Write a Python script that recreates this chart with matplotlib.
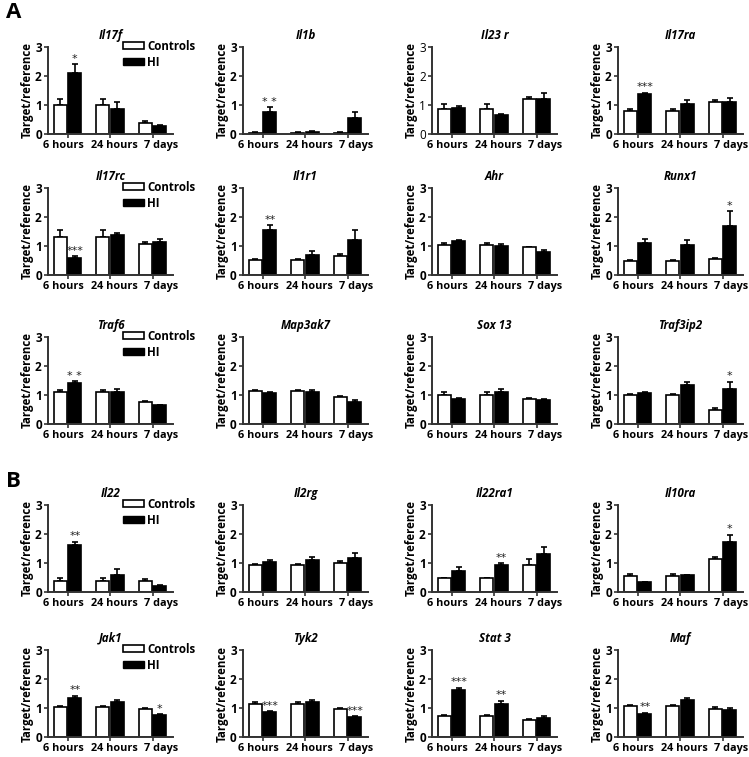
import matplotlib
matplotlib.use('Agg')
import matplotlib.pyplot as plt
import numpy as np
from matplotlib.patches import Patch

plt.rcParams['font.family'] = ['Open Sans', 'DejaVu Sans']

timepoints = ['6 hours', '24 hours', '7 days']
series_names = ['Controls', 'HI']

# ---- data (mean, upper error) ----
il17f_ctrl = [1.00, 1.00, 0.37]; il17f_ctrl_err = [0.20, 0.20, 0.08]
il17f_hi = [2.12, 0.85, 0.28];   il17f_hi_err = [0.28, 0.25, 0.04]
il17f_sig = ['*', '', '']

il1b_ctrl = [0.04, 0.04, 0.04];  il1b_ctrl_err = [0.02, 0.02, 0.02]
il1b_hi = [0.75, 0.07, 0.55];    il1b_hi_err = [0.17, 0.02, 0.22]
il1b_sig = ['* *', '', '']

il23r_ctrl = [0.87, 0.87, 1.20]; il23r_ctrl_err = [0.18, 0.18, 0.08]
il23r_hi = [0.88, 0.65, 1.20];   il23r_hi_err = [0.10, 0.05, 0.20]
il23r_sig = ['', '', '']

il17ra_ctrl = [0.80, 0.80, 1.12]; il17ra_ctrl_err = [0.06, 0.06, 0.04]
il17ra_hi = [1.37, 1.02, 1.12];   il17ra_hi_err = [0.06, 0.15, 0.12]
il17ra_sig = ['***', '', '']

il17rc_ctrl = [1.30, 1.30, 1.08]; il17rc_ctrl_err = [0.25, 0.25, 0.06]
il17rc_hi = [0.60, 1.38, 1.13];   il17rc_hi_err = [0.04, 0.08, 0.10]
il17rc_sig = ['***', '', '']

il1r1_ctrl = [0.50, 0.50, 0.67]; il1r1_ctrl_err = [0.04, 0.04, 0.04]
il1r1_hi = [1.55, 0.68, 1.22];   il1r1_hi_err = [0.17, 0.14, 0.32]
il1r1_sig = ['**', '', '']

ahr_ctrl = [1.05, 1.05, 0.95]; ahr_ctrl_err = [0.04, 0.04, 0.03]
ahr_hi = [1.17, 1.00, 0.80];   ahr_hi_err = [0.05, 0.06, 0.07]
ahr_sig = ['', '', '']

runx1_ctrl = [0.48, 0.48, 0.55]; runx1_ctrl_err = [0.03, 0.03, 0.03]
runx1_hi = [1.12, 1.05, 1.68];   runx1_hi_err = [0.12, 0.15, 0.52]
runx1_sig = ['', '', '*']

traf6_ctrl = [1.10, 1.10, 0.77]; traf6_ctrl_err = [0.07, 0.07, 0.03]
traf6_hi = [1.40, 1.12, 0.64];   traf6_hi_err = [0.07, 0.10, 0.03]
traf6_sig = ['* *', '', '']

map3ak7_ctrl = [1.13, 1.13, 0.93]; map3ak7_ctrl_err = [0.05, 0.05, 0.04]
map3ak7_hi = [1.08, 1.10, 0.77];   map3ak7_hi_err = [0.03, 0.08, 0.05]
map3ak7_sig = ['', '', '']

sox13_ctrl = [1.00, 1.00, 0.85]; sox13_ctrl_err = [0.10, 0.10, 0.03]
sox13_hi = [0.85, 1.10, 0.82];   sox13_hi_err = [0.03, 0.10, 0.05]
sox13_sig = ['', '', '']

traf3ip2_ctrl = [1.00, 1.00, 0.50]; traf3ip2_ctrl_err = [0.05, 0.05, 0.05]
traf3ip2_hi = [1.07, 1.35, 1.20];   traf3ip2_hi_err = [0.05, 0.10, 0.25]
traf3ip2_sig = ['', '', '*']

il22_ctrl = [0.38, 0.38, 0.37]; il22_ctrl_err = [0.10, 0.10, 0.08]
il22_hi = [1.62, 0.60, 0.22];   il22_hi_err = [0.12, 0.20, 0.03]
il22_sig = ['**', '', '']

il2rg_ctrl = [0.93, 0.93, 1.00]; il2rg_ctrl_err = [0.04, 0.04, 0.06]
il2rg_hi = [1.05, 1.12, 1.18];   il2rg_hi_err = [0.05, 0.10, 0.15]
il2rg_sig = ['', '', '']

il22ra1_ctrl = [0.48, 0.48, 0.93]; il22ra1_ctrl_err = [0.02, 0.02, 0.22]
il22ra1_hi = [0.73, 0.93, 1.30];   il22ra1_hi_err = [0.13, 0.06, 0.25]
il22ra1_sig = ['', '**', '']

il10ra_ctrl = [0.55, 0.55, 1.15]; il10ra_ctrl_err = [0.08, 0.08, 0.05]
il10ra_hi = [0.33, 0.57, 1.72];   il10ra_hi_err = [0.02, 0.03, 0.25]
il10ra_sig = ['', '', '*']

jak1_ctrl = [1.05, 1.05, 0.97]; jak1_ctrl_err = [0.03, 0.03, 0.04]
jak1_hi = [1.35, 1.20, 0.75];   jak1_hi_err = [0.08, 0.06, 0.03]
jak1_sig = ['**', '', '*']

tyk2_ctrl = [1.13, 1.13, 0.97]; tyk2_ctrl_err = [0.07, 0.07, 0.03]
tyk2_hi = [0.85, 1.22, 0.68];   tyk2_hi_err = [0.03, 0.05, 0.03]
tyk2_sig = ['***', '', '***']

stat3_ctrl = [0.72, 0.72, 0.58]; stat3_ctrl_err = [0.03, 0.03, 0.03]
stat3_hi = [1.63, 1.13, 0.65];   stat3_hi_err = [0.07, 0.12, 0.06]
stat3_sig = ['***', '**', '']

maf_ctrl = [1.08, 1.08, 0.98]; maf_ctrl_err = [0.04, 0.04, 0.07]
maf_hi = [0.80, 1.27, 0.92];   maf_hi_err = [0.03, 0.07, 0.08]
maf_sig = ['**', '', '']

panels = [
    ('Il17f', il17f_ctrl, il17f_ctrl_err, il17f_hi, il17f_hi_err, il17f_sig),
    ('Il1b', il1b_ctrl, il1b_ctrl_err, il1b_hi, il1b_hi_err, il1b_sig),
    ('Il23 r', il23r_ctrl, il23r_ctrl_err, il23r_hi, il23r_hi_err, il23r_sig),
    ('Il17ra', il17ra_ctrl, il17ra_ctrl_err, il17ra_hi, il17ra_hi_err, il17ra_sig),
    ('Il17rc', il17rc_ctrl, il17rc_ctrl_err, il17rc_hi, il17rc_hi_err, il17rc_sig),
    ('Il1r1', il1r1_ctrl, il1r1_ctrl_err, il1r1_hi, il1r1_hi_err, il1r1_sig),
    ('Ahr', ahr_ctrl, ahr_ctrl_err, ahr_hi, ahr_hi_err, ahr_sig),
    ('Runx1', runx1_ctrl, runx1_ctrl_err, runx1_hi, runx1_hi_err, runx1_sig),
    ('Traf6', traf6_ctrl, traf6_ctrl_err, traf6_hi, traf6_hi_err, traf6_sig),
    ('Map3ak7', map3ak7_ctrl, map3ak7_ctrl_err, map3ak7_hi, map3ak7_hi_err, map3ak7_sig),
    ('Sox 13', sox13_ctrl, sox13_ctrl_err, sox13_hi, sox13_hi_err, sox13_sig),
    ('Traf3ip2', traf3ip2_ctrl, traf3ip2_ctrl_err, traf3ip2_hi, traf3ip2_hi_err, traf3ip2_sig),
    ('Il22', il22_ctrl, il22_ctrl_err, il22_hi, il22_hi_err, il22_sig),
    ('Il2rg', il2rg_ctrl, il2rg_ctrl_err, il2rg_hi, il2rg_hi_err, il2rg_sig),
    ('Il22ra1', il22ra1_ctrl, il22ra1_ctrl_err, il22ra1_hi, il22ra1_hi_err, il22ra1_sig),
    ('Il10ra', il10ra_ctrl, il10ra_ctrl_err, il10ra_hi, il10ra_hi_err, il10ra_sig),
    ('Jak1', jak1_ctrl, jak1_ctrl_err, jak1_hi, jak1_hi_err, jak1_sig),
    ('Tyk2', tyk2_ctrl, tyk2_ctrl_err, tyk2_hi, tyk2_hi_err, tyk2_sig),
    ('Stat 3', stat3_ctrl, stat3_ctrl_err, stat3_hi, stat3_hi_err, stat3_sig),
    ('Maf', maf_ctrl, maf_ctrl_err, maf_hi, maf_hi_err, maf_sig),
]

# ---- layout (pixels) ----
W, H = 749, 757
fig = plt.figure(figsize=(W / 100, H / 100), dpi=100)
col_x = [48, 243, 432, 618]
row_top = [47, 188, 337, 505, 650]
ax_w, ax_h = 125, 87
label_shift_pt = [-3.0, 3.0, 5.8]

bw = 0.31
off = 0.17
x = np.arange(len(timepoints))

for i, (name, c, ce, h, he, sig) in enumerate(panels):
    r, col = divmod(i, 4)
    ax = fig.add_axes([col_x[col] / W, 1 - (row_top[r] + ax_h) / H, ax_w / W, ax_h / H])
    ax.bar(x - off, c, bw, color='white', edgecolor='black', linewidth=1.2, zorder=2)
    ax.bar(x + off, h, bw, color='black', edgecolor='black', linewidth=1.2, zorder=2)
    ax.errorbar(x - off, c, yerr=[np.zeros(3), ce], fmt='none', ecolor='black',
                elinewidth=1.2, capsize=2.5, capthick=1.2, zorder=1)
    ax.errorbar(x + off, h, yerr=[np.zeros(3), he], fmt='none', ecolor='black',
                elinewidth=1.2, capsize=2.5, capthick=1.2, zorder=1)
    for j, s in enumerate(sig):
        if s:
            ax.text(x[j] + off, h[j] + he[j] + 0.02, s, ha='center', va='bottom',
                    fontsize=8, color='#222222', family='DejaVu Sans')
    ax.set_xlim(-0.46, 2.48)
    ax.set_ylim(0, 3)
    ax.set_yticks([0, 1, 2, 3])
    ax.set_xticks(x)
    ax.set_xticklabels([])
    for j, lab in enumerate(timepoints):
        ax.annotate(lab, xy=(x[j], 0), xycoords=('data', 'axes fraction'),
                    xytext=(label_shift_pt[j], -4.2), textcoords='offset points',
                    ha='center', va='top', fontsize=7.8, fontweight='bold',
                    annotation_clip=False)
    ywt = 'normal' if name == 'Il23 r' else 'bold'
    ax.set_yticklabels(['0', '1', '2', '3'], fontsize=8.5, fontweight=ywt)
    for sp in ['top', 'right']:
        ax.spines[sp].set_visible(False)
    for sp in ['left', 'bottom']:
        ax.spines[sp].set_linewidth(1.4)
        ax.spines[sp].set_color('#333333')
    ax.tick_params(axis='both', length=3, width=1.2, pad=1.5, color='#333333')
    ax.set_ylabel('Target/reference', fontsize=8.3, fontweight='bold', labelpad=1)
    ax.set_title(name, fontsize=8.3, fontweight='bold', fontstyle='italic', pad=6)
    if col == 0:
        handles = [Patch(facecolor='white', edgecolor='black', linewidth=1.2),
                   Patch(facecolor='black', edgecolor='black')]
        ax.legend(handles, series_names, loc='upper left', bbox_to_anchor=(0.6, 1.08),
                  frameon=False, handlelength=1.8, handleheight=0.55, handletextpad=0.3,
                  labelspacing=0.25, borderaxespad=0, borderpad=0,
                  prop={'weight': 'bold', 'size': 8.3})

fig.text(6 / W, 1 - 13 / H, 'A', fontsize=16, fontweight='bold', va='center', ha='left')
fig.text(6 / W, 1 - 482 / H, 'B', fontsize=16, fontweight='bold', va='center', ha='left')

fig.savefig('out.png', dpi=100)
